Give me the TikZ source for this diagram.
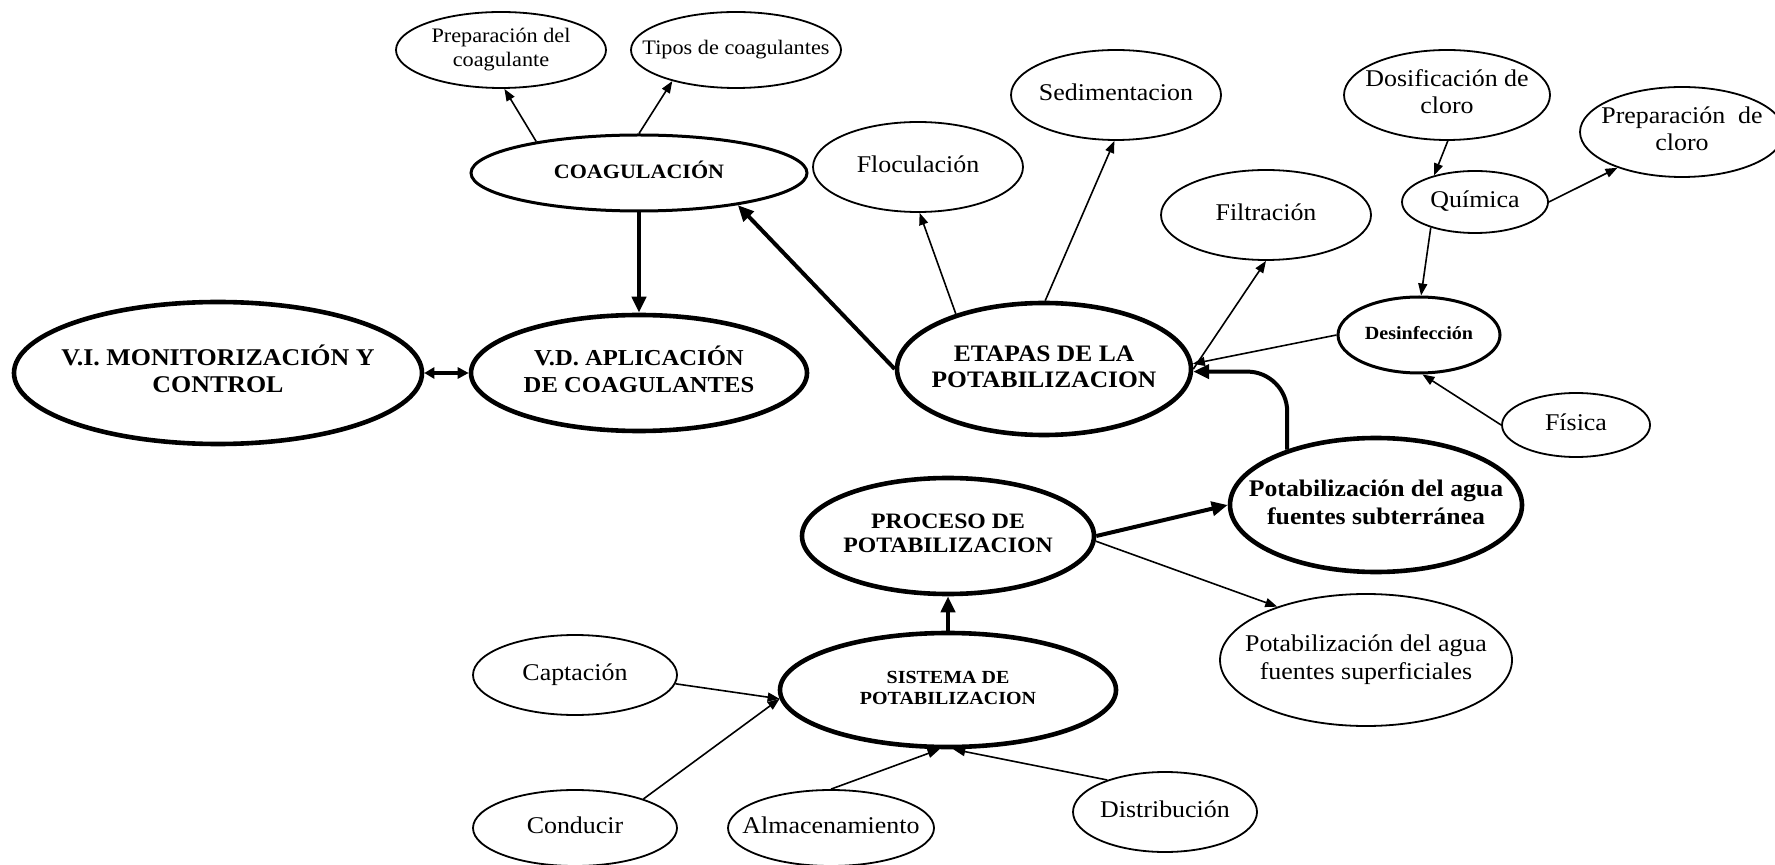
\documentclass[tikz,border=0pt]{standalone}
\usepackage{fontspec}
\setmainfont{Liberation Serif}[FakeStretch=1.08]
\usetikzlibrary{shapes.geometric,arrows.meta}
\newcommand\tx[3]{\makebox[0pt]{\fontsize{#1}{#2}\selectfont\begin{tabular}{@{}c@{}}#3\end{tabular}}}
\begin{document}
\begin{tikzpicture}[x=0.5pt,y=-0.5pt,
  el/.style={ellipse, draw, inner sep=0pt, line width=0.9pt},
  elb/.style={el, line width=2.3pt},
  elm/.style={el, line width=1.5pt},
  tarrow/.style={line width=0.8pt, -{Triangle[length=6pt,width=4.5pt]}},
  barrow/.style={line width=2pt, -{Triangle[length=8pt,width=7pt]}},
  dbl/.style={line width=2pt, {Triangle[length=5pt,width=5.5pt]}-{Triangle[length=5.5pt,width=5.5pt]}}
]
\fill[white] (0,0) rectangle (1775,865);
\useasboundingbox (0,0) rectangle (1775,865);

% nodes
\node[el, minimum width=105pt, minimum height=38pt] (prepc) at (501,50) {\tx{10.3}{11.7}{Preparación del\\coagulante}};
\node[el, minimum width=105pt, minimum height=38pt] (tipos) at (736,50) {\tx{10.3}{11.7}{Tipos de coagulantes}};
\node[elm, minimum width=168pt, minimum height=38pt] (coag) at (639,173) {\tx{10.2}{12}{\bfseries COAGULACIÓN}};
\node[elb, minimum width=204pt, minimum height=71pt] (vi) at (218,373) {\tx{12}{13.5}{\bfseries V.I. MONITORIZACIÓN Y\\\bfseries CONTROL}};
\node[elb, minimum width=168pt, minimum height=58pt] (vd) at (639,373) {\tx{11.4}{13.5}{\bfseries V.D. APLICACIÓN\\\bfseries DE COAGULANTES}};
\node[el, minimum width=105pt, minimum height=45pt] (floc) at (918,167) {\tx{12}{13.5}{Floculación}};
\node[el, minimum width=105pt, minimum height=45pt] (sedi) at (1116,95) {\tx{12}{13.5}{Sedimentacion}};
\node[el, minimum width=105pt, minimum height=45pt] (filt) at (1266,215) {\tx{12}{13.5}{Filtración}};
\node[elb, minimum width=147pt, minimum height=66pt] (etapas) at (1044,369) {\tx{11.8}{13.3}{\bfseries ETAPAS DE LA\\\bfseries POTABILIZACION}};
\node[el, minimum width=103pt, minimum height=45pt] (dosif) at (1447,95) {\tx{12}{13.5}{Dosificación de\\cloro}};
\node[el, minimum width=102pt, minimum height=45pt] (prepcl) at (1682,132) {\tx{12}{13.5}{Preparación\ \ de\\cloro}};
\node[el, minimum width=73pt, minimum height=31pt] (quim) at (1475,202) {\tx{12}{13.5}{Química}};
\node[elm, minimum width=81pt, minimum height=38pt] (desinf) at (1419,335) {\tx{9.3}{11}{\bfseries Desinfección}};
\node[el, minimum width=74pt, minimum height=32pt] (fisica) at (1576,425) {\tx{12}{13.5}{Física}};
\node[elb, minimum width=146pt, minimum height=67pt] (subt) at (1376,505) {\tx{11.9}{13.8}{\bfseries Potabilización del agua\\\bfseries fuentes subterránea}};
\node[elb, minimum width=146pt, minimum height=58pt] (proceso) at (948,536) {\tx{11}{12}{\bfseries PROCESO DE\\\bfseries POTABILIZACION}};
\node[el, minimum width=146pt, minimum height=66pt] (superf) at (1366,660) {\tx{12}{14}{Potabilización del agua\\fuentes superficiales}};
\node[elb, minimum width=168pt, minimum height=57pt] (sistema) at (948,690) {\tx{9.25}{10.7}{\bfseries SISTEMA DE\\\bfseries POTABILIZACION}};
\node[el, minimum width=102pt, minimum height=40pt] (capt) at (575,675) {\tx{12}{13.5}{Captación}};
\node[el, minimum width=102pt, minimum height=38pt] (cond) at (575,828) {\tx{12}{13.5}{Conducir}};
\node[el, minimum width=103pt, minimum height=38pt] (alm) at (831,828) {\tx{12}{13.5}{Almacenamiento}};
\node[el, minimum width=92pt, minimum height=40pt] (distr) at (1165,812) {\tx{12}{13.5}{Distribución}};

% connectors
\draw[tarrow] (coag.163) -- (prepc.-85);
\draw[tarrow] (coag.90) -- (tipos.206);
\draw[barrow] (coag.south) -- (vd.north);
\draw[dbl] (vi.east) -- (vd.west);
\draw[barrow] (etapas.west) -- (coag.-18);
\draw[tarrow] (etapas.148) -- (floc.-88);
\draw[tarrow] (etapas.89) -- (sedi.-92);
\draw[tarrow] (etapas.0) -- (filt.-90);
\draw[tarrow] (desinf.west) -- (etapas.2);
\draw[barrow, rounded corners=20pt] (subt.148) |- (etapas.-1);
\draw[tarrow] (dosif.-89) -- (quim.147);
\draw[tarrow] (quim.east) -- (prepcl.209);
\draw[tarrow] (quim.210) -- (desinf.87);
\draw[tarrow] (fisica.west) -- (desinf.-85);
\draw[barrow] (proceso.east) -- (subt.west);
\draw[tarrow] (proceso.-2) -- (superf.149);
\draw[barrow] (sistema.north) -- (proceso.south);
\draw[tarrow] (capt.-5) -- (sistema.183);
\draw[tarrow] (cond.23) -- (sistema.183);
\draw[tarrow] (alm.north) -- (sistema.-98);
\draw[tarrow] (distr.151) -- (sistema.-85);
\end{tikzpicture}
\end{document}
